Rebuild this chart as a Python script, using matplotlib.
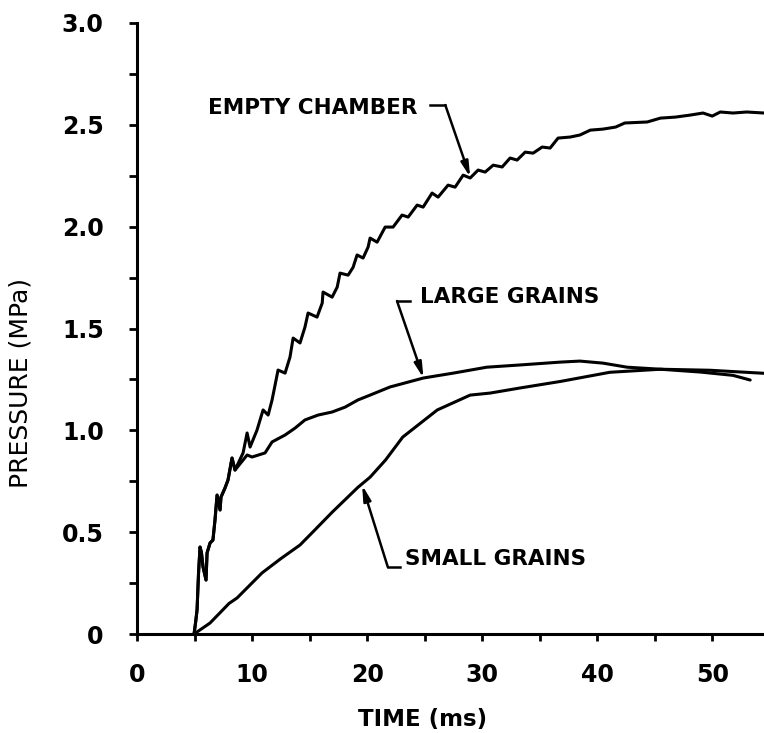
import matplotlib.pyplot as plt
from matplotlib.ticker import MultipleLocator

# Pressure traces: time in ms, pressure in MPa
# shared initial jagged rise (empty chamber and large grains overlap here)
rise_t = [4.96, 5.1, 5.22, 5.35, 5.48, 5.6, 5.74, 6.0, 6.09, 6.35, 6.6, 6.78,
          6.96, 7.22, 7.3, 7.65, 7.91, 8.26, 8.52]
rise_p = [0.0, 0.06, 0.118, 0.30, 0.427, 0.40, 0.329, 0.265, 0.398, 0.447, 0.461, 0.56,
          0.682, 0.609, 0.672, 0.717, 0.756, 0.864, 0.805]

empty_t = [9.22, 9.57, 9.83, 10.43, 10.96, 11.4, 11.74, 12.0, 12.26, 12.87, 13.3, 13.57,
           14.17, 14.6, 14.87, 15.65, 16.1, 16.17, 16.96, 17.4, 17.65, 18.35, 18.78,
           19.13, 19.65, 20.09, 20.26, 20.87, 21.57, 22.26, 23.04, 23.57, 24.35, 24.87,
           25.65, 26.17, 27.04, 27.65, 28.35, 28.96, 29.65, 30.26, 30.96, 31.74, 32.43,
           33.04, 33.74, 34.43, 35.22, 35.91, 36.6, 37.65, 38.5, 39.4, 40.5, 41.6, 42.4,
           44.35, 45.5, 46.8, 48.1, 49.2, 50.0, 50.7, 51.8, 53.0, 54.5]
empty_p = [0.889, 0.987, 0.918, 1.001, 1.10, 1.075, 1.149, 1.222, 1.296, 1.281, 1.36, 1.453,
           1.429, 1.507, 1.576, 1.556, 1.625, 1.679, 1.654, 1.703, 1.772, 1.762, 1.80,
           1.861, 1.846, 1.90, 1.944, 1.924, 1.998, 1.998, 2.057, 2.047, 2.106, 2.096,
           2.165, 2.145, 2.204, 2.194, 2.253, 2.239, 2.278, 2.268, 2.302, 2.293, 2.337,
           2.327, 2.366, 2.361, 2.391, 2.386, 2.435, 2.44, 2.45, 2.474, 2.479, 2.489, 2.509,
           2.514, 2.533, 2.538, 2.548, 2.558, 2.543, 2.563, 2.558, 2.563, 2.558]

large_t = [9.22, 9.57, 10.0, 11.13, 11.74, 12.87, 13.74, 14.6, 15.74, 16.96, 18.09, 19.2,
           20.26, 22.0, 24.9, 27.5, 30.4, 33.3, 36.8, 38.5, 40.5, 42.6, 45.5, 49.0, 51.8, 53.3]
large_p = [0.854, 0.879, 0.869, 0.889, 0.943, 0.977, 1.011, 1.051, 1.075, 1.09, 1.114, 1.149,
           1.173, 1.213, 1.257, 1.281, 1.31, 1.321, 1.335, 1.34, 1.33, 1.31, 1.30, 1.286, 1.27, 1.247]

small_t = [4.96, 6.35, 8.0, 8.7, 10.87, 12.5, 14.17, 15.2, 17.0, 19.2, 20.26, 21.6, 23.1,
           26.1, 28.96, 30.7, 33.3, 36.8, 41.1, 45.5, 49.8, 54.5]
small_p = [0.0, 0.054, 0.15, 0.177, 0.30, 0.37, 0.437, 0.496, 0.60, 0.72, 0.77, 0.854, 0.967,
           1.10, 1.173, 1.183, 1.208, 1.24, 1.285, 1.30, 1.295, 1.28]

x_ticks = [0, 10, 20, 30, 40, 50]
y_ticks = [0, 0.5, 1.0, 1.5, 2.0, 2.5, 3.0]
y_tick_labels = ["0", "0.5", "1.0", "1.5", "2.0", "2.5", "3.0"]

plt.rcParams['font.family'] = ['DejaVu Sans']
plt.rcParams['font.weight'] = 'bold'

fig = plt.figure(figsize=(7.64, 7.33), dpi=100)
ax = fig.add_axes([137 / 764, 99 / 733, 627 / 764, 611 / 733])

line_kw = dict(color='black', lw=2.2, solid_joinstyle='round', solid_capstyle='round')
ax.plot(rise_t + empty_t, rise_p + empty_p, **line_kw)
ax.plot(rise_t + large_t, rise_p + large_p, **line_kw)
ax.plot(small_t, small_p, **line_kw)

ax.set_xlim(0, 54.5)
ax.set_ylim(0, 3.0)

for side in ['top', 'right']:
    ax.spines[side].set_visible(False)
for side in ['left', 'bottom']:
    ax.spines[side].set_linewidth(2.2)

ax.set_xticks(x_ticks)
ax.xaxis.set_minor_locator(MultipleLocator(5))
ax.set_yticks(y_ticks)
ax.set_yticklabels(y_tick_labels)
ax.yaxis.set_minor_locator(MultipleLocator(0.25))

ax.tick_params(axis='x', which='both', direction='out', length=5, width=2, pad=16, labelsize=17)
ax.tick_params(axis='y', which='both', direction='out', length=6, width=2, pad=18, labelsize=17)

ax.set_xlabel("TIME (ms)", fontsize=16.5, fontweight='bold')
ax.xaxis.set_label_coords(0.456, -0.121)
ax.set_ylabel("PRESSURE (MPa)", fontsize=18, fontweight='normal')
ax.yaxis.set_label_coords(-0.167, 0.41)

# curve labels with leader lines
arrow_kw = dict(arrowstyle='-|>,head_length=0.9,head_width=0.22', color='black', lw=1.8,
                shrinkA=0, shrinkB=0)
text_kw = dict(fontsize=15.5, fontweight='bold', va='center')

ax.text(24.4, 2.585, "EMPTY CHAMBER", ha='right', **text_kw)
ax.plot([25.5, 26.8], [2.597, 2.597], color='black', lw=1.8)
ax.annotate("", xy=(28.96, 2.243), xytext=(26.8, 2.597), arrowprops=arrow_kw)

ax.text(24.6, 1.655, "LARGE GRAINS", ha='left', **text_kw)
ax.plot([22.6, 23.7], [1.635, 1.635], color='black', lw=1.8)
ax.annotate("", xy=(24.9, 1.257), xytext=(22.6, 1.635), arrowprops=arrow_kw)

ax.text(23.3, 0.37, "SMALL GRAINS", ha='left', **text_kw)
ax.plot([21.8, 22.9], [0.329, 0.329], color='black', lw=1.8)
ax.annotate("", xy=(19.57, 0.731), xytext=(21.8, 0.329), arrowprops=arrow_kw)

fig.savefig("out.png", dpi=100)
